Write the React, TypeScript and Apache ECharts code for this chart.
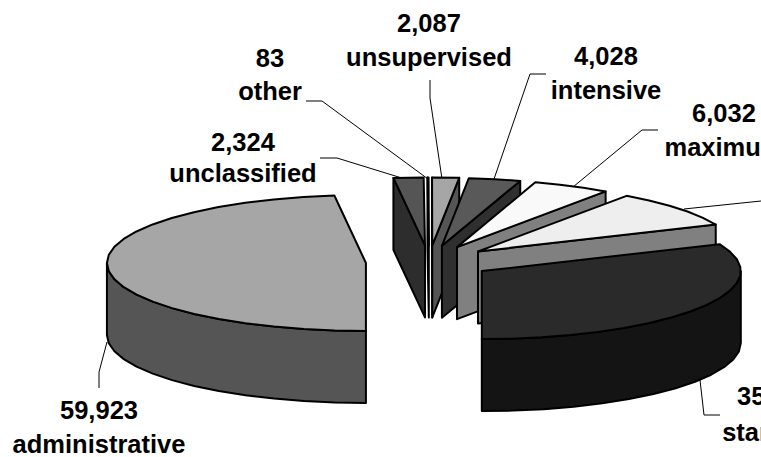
import React, { useEffect, useRef } from "react";
import * as echarts from "echarts";

// Data (clockwise from the bottom of the pie).
const categories = ["administrative", "unclassified", "other", "unsupervised", "intensive", "maximum", "medium", "standard"];
const inmates = [59923, 2324, 83, 2087, 4028, 6032, 10950, 35900];
const valueLabels = ["59,923", "2,324", "83", "2,087", "4,028", "6,032", "", "35,900"];
const topColours = ["#a6a6a6", "#555555", "#2a2a2a", "#a6a6a6", "#595959", "#f9f9f9", "#eeeeee", "#2a2a2a"];
const sideColours = ["#555555", "#2d2d2d", "#2a2a2a", "#555555", "#2f2f2f", "#808080", "#808080", "#141414"];

// Projection of the tilted pie.
const CENTER_X = 429;
const CENTER_Y = 262;
const RX = 259;
const RY = 68;
const DEPTH = 72;
const EXPLODE = 0.244;
const START_ANGLE = 180;
const DEGREES_PER_UNIT = 173 / 59923; // the drawn pie is foreshortened: the last slice closes the circle
const ARC_STEP = 7;

type Pt = [number, number];

const sweeps = inmates.map((v, i) =>
  i === inmates.length - 1 ? 360 - inmates.slice(0, -1).reduce((a, b) => a + b * DEGREES_PER_UNIT, 0) : v * DEGREES_PER_UNIT,
);
const starts = sweeps.map((_, i) => START_ANGLE + sweeps.slice(0, i).reduce((a, b) => a + b, 0));

const rad = (d: number) => (d * Math.PI) / 180;
const paintOrder = inmates
  .map((_, i) => i)
  .sort((a, b) => Math.cos(rad(starts[b] + sweeps[b] / 2)) - Math.cos(rad(starts[a] + sweeps[a] / 2)));

function arcPoints(ax: number, ay: number, from: number, to: number, drop = 0): Pt[] {
  const pts: Pt[] = [];
  const n = Math.max(1, Math.ceil((to - from) / ARC_STEP));
  for (let k = 0; k <= n; k++) {
    const t = rad(from + ((to - from) * k) / n);
    pts.push([ax + RX * Math.sin(t), ay - RY * Math.cos(t) + drop]);
  }
  return pts;
}

function renderSlice(params: any) {
  const i = paintOrder[params.dataIndex];
  const a0 = starts[i];
  const a1 = a0 + sweeps[i];
  const mid = rad((a0 + a1) / 2);
  const ax = CENTER_X + EXPLODE * RX * Math.sin(mid);
  const ay = CENTER_Y - EXPLODE * RY * Math.cos(mid);
  const stroke = { stroke: "#000", lineWidth: 2, lineJoin: "round" };
  const side = { fill: sideColours[i], ...stroke };
  const children: any[] = [];
  const face = (angle: number) => {
    const [p] = arcPoints(ax, ay, angle, angle);
    children.push({
      type: "polygon",
      shape: { points: [p, [ax, ay], [ax, ay + DEPTH], [p[0], p[1] + DEPTH]] },
      style: side,
    });
  };
  if (Math.sin(rad(a0)) < -1e-6) face(a0);
  if (Math.sin(rad(a1)) > 1e-6) face(a1);
  // The front half of the rim lies between 90 and 270 degrees, once per turn.
  [0, 360].forEach((turn) => {
    const wallFrom = Math.max(a0, 90 + turn);
    const wallTo = Math.min(a1, 270 + turn);
    if (wallTo > wallFrom) {
      const upper = arcPoints(ax, ay, wallFrom, wallTo);
      const lower = arcPoints(ax, ay, wallFrom, wallTo, DEPTH).reverse();
      children.push({ type: "polygon", shape: { points: [...upper, ...lower] }, style: side });
    }
  });
  children.push({
    type: "polygon",
    shape: { points: [[ax, ay], ...arcPoints(ax, ay, a0, a1)] },
    style: { fill: topColours[i], ...stroke },
  });
  return { type: "group", children };
}

// Label layout: centre x, y of the value line, y of the name line.
const labelLayout: Record<string, [number, number, number]> = {
  administrative: [99, 410, 444],
  unclassified: [243, 142, 173],
  other: [270, 58, 91],
  unsupervised: [429, 23, 57],
  intensive: [606, 56, 90],
  maximum: [724, 113, 147],
  standard: [776, 396, 432],
};

const leaderLines: Pt[][] = [
  [[107, 342], [99, 372], [99, 388]],
  [[320, 158], [337, 158], [405, 179]],
  [[306, 101], [322, 101], [428, 179]],
  [[430, 80], [430, 98], [442, 179]],
  [[546, 74], [530, 74], [493, 182]],
  [[658, 130], [642, 130], [573, 187]],
  [[761, 201], [684, 209]],
  [[700, 380], [704, 415], [720, 415]],
];

const textStyle = (text: string, x: number, y: number) => ({
  type: "text",
  x,
  y,
  silent: true,
  style: {
    text,
    x: 0,
    y: 0,
    align: "center",
    verticalAlign: "middle",
    fontFamily: "'Liberation Sans', Arial, sans-serif",
    fontWeight: "bold",
    fontSize: 25.5,
    fill: "#000",
  },
});

export default function App() {
  const ref = useRef<HTMLDivElement>(null);
  useEffect(() => {
    document.body.style.margin = "0";
    const chart = echarts.init(ref.current!, undefined, { renderer: "svg" });
    const texts: any[] = [];
    categories.forEach((name, i) => {
      const layout = labelLayout[name];
      if (!layout) return;
      texts.push(textStyle(valueLabels[i], layout[0], layout[1]));
      texts.push(textStyle(name, layout[0], layout[2]));
    });
    chart.setOption({
      animation: false,
      backgroundColor: "#fff",
      graphic: [
        ...leaderLines.map((points) => ({
          type: "polyline",
          z: 0,
          silent: true,
          shape: { points },
          style: { stroke: "#000", lineWidth: 1, fill: "none" },
        })),
        ...texts,
      ],
      series: [
        {
          type: "custom",
          coordinateSystem: "none",
          silent: true,
          z: 2,
          renderItem: renderSlice,
          data: paintOrder.map((i) => ({ name: categories[i], value: inmates[i] })),
        },
      ],
    });
    return () => chart.dispose();
  }, []);
  return <div ref={ref} style={{ width: 761, height: 457, overflow: "hidden" }} />;
}
